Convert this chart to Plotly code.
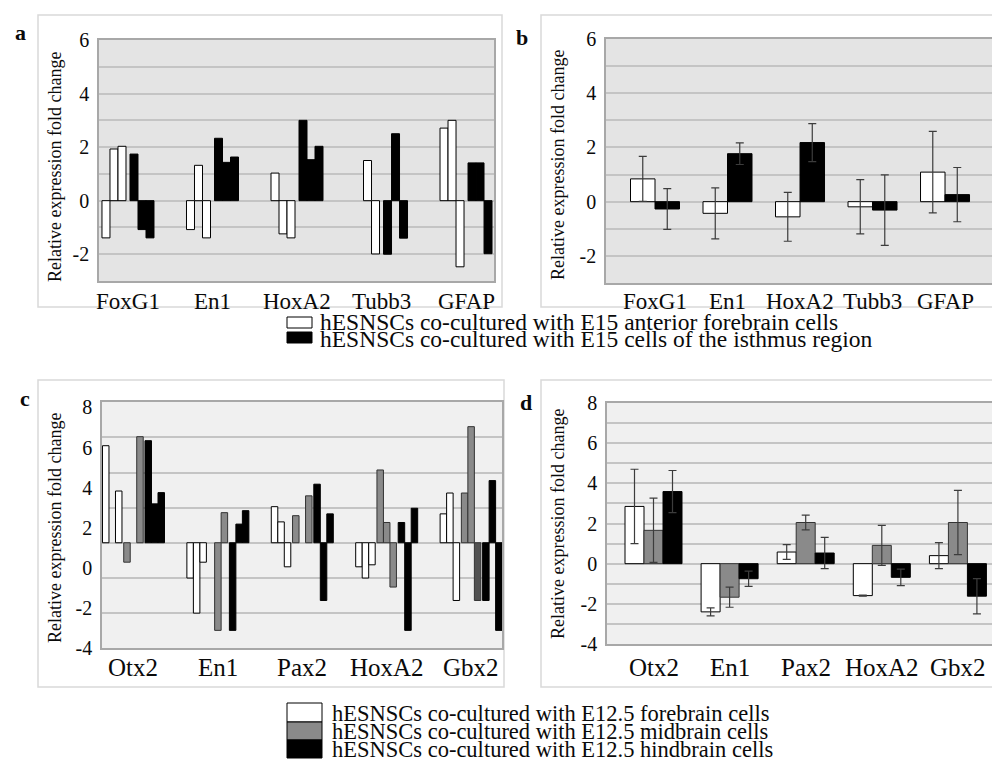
import plotly.graph_objects as go

W, H = 992, 765
SERIF = "Liberation Serif, Times New Roman, serif"

# ---------------- data ----------------
genes_ab = ["FoxG1", "En1", "HoxA2", "Tubb3", "GFAP"]
# panel a: three replicates per condition
a_fore_r1 = [-1.39, -1.08, 1.03, None, 2.71]
a_fore_r2 = [1.93, 1.32, -1.24, 1.50, 3.00]
a_fore_r3 = [2.03, -1.39, -1.39, -1.99, -2.47]
a_isth_r1 = [1.74, 2.33, 3.00, -2.00, 1.41]
a_isth_r2 = [-1.08, 1.43, 1.53, 2.50, 1.41]
a_isth_r3 = [-1.39, 1.63, 2.03, -1.40, -1.98]
# panel b: means and errors
b_fore_mean = [0.84, -0.43, -0.56, -0.19, 1.09]
b_fore_err = [0.83, 0.94, 0.90, 1.00, 1.50]
b_isth_mean = [-0.27, 1.77, 2.18, -0.31, 0.26]
b_isth_err = [0.75, 0.40, 0.70, 1.30, 1.00]

genes_cd = ["Otx2", "En1", "Pax2", "HoxA2", "Gbx2"]
# panel c: bar tips read on the labelled axis; bars rise from a common base
c_base = 1.25
c_fore_r1 = [6.09, -0.51, 3.05, 0.05, 2.69]
c_fore_r2 = [None, -2.26, 2.29, -0.51, 3.73]
c_fore_r3 = [3.83, 0.28, 0.05, 0.15, -1.63]
c_mid_r1 = [0.28, None, 2.60, 4.88, 3.73]
c_mid_r2 = [None, -3.12, None, 2.26, 7.04]
c_mid_r3 = [6.54, 2.75, 3.59, -0.96, -1.63]
c_hind_r1 = [6.34, -3.12, 4.17, 2.26, -1.63]
c_hind_r2 = [3.19, 2.18, -1.63, -3.12, 4.35]
c_hind_r3 = [3.75, 2.85, 2.69, 2.97, -3.12]
# panel d: means and errors
d_fore_mean = [2.85, -2.40, 0.58, -1.59, 0.40]
d_fore_err = [1.85, 0.20, 0.37, 0.03, 0.65]
d_mid_mean = [1.66, -1.67, 2.05, 0.91, 2.05]
d_mid_err = [1.60, 0.50, 0.37, 1.00, 1.60]
d_hind_mean = [3.59, -0.75, 0.53, -0.68, -1.62]
d_hind_err = [1.05, 0.38, 0.78, 0.41, 0.88]

tick_ab = [-2, 0, 2, 4, 6]
tick_cd = [-4, -2, 0, 2, 4, 6, 8]

legend1 = ["hESNSCs co-cultured with E15 anterior forebrain cells",
           "hESNSCs co-cultured with E15 cells of the isthmus region"]
legend2 = ["hESNSCs co-cultured with E12.5 forebrain cells",
           "hESNSCs co-cultured with E12.5 midbrain cells",
           "hESNSCs co-cultured with E12.5 hindbrain cells"]

WHITE, GRAY, BLACK = "#ffffff", "#8a8a8a", "#000000"
DARKGRAY = "#525252"
GRID = "#c4c4c4"
TXT = "#0a0a0a"
ERR = "#3c3c3c"


def fx(p):
    return p / W


def fy(p):
    return 1 - p / H


fig = go.Figure()


def bar(xa, ya, cats, vals, color, offset, width, base=None, err=None, lc="#000"):
    kw = {}
    if err is not None:
        kw["error_y"] = dict(type="data", array=err, color=ERR, thickness=1.2, width=4)
    fig.add_trace(go.Bar(
        x=cats, y=vals, base=base, offset=offset, width=width,
        marker=dict(color=color, line=dict(color=lc, width=1)),
        xaxis=xa, yaxis=ya, showlegend=False, hoverinfo="skip", **kw))


# panel a (spacing 84.5 px per category)
sa = 84.5
wa = 8 / sa
for vals, off, col in [(a_fore_r1, -26, WHITE), (a_fore_r2, -18, WHITE), (a_fore_r3, -10, WHITE),
                       (a_isth_r1, 2, BLACK), (a_isth_r2, 10, BLACK), (a_isth_r3, 18, BLACK)]:
    bar("x", "y", genes_ab, vals, col, off / sa, wa)

# panel b (spacing 72.5 px)
sb = 72.5
wb = 24.5 / sb
bar("x2", "y2", genes_ab, b_fore_mean, WHITE, -wb, wb, err=b_fore_err)
bar("x2", "y2", genes_ab, b_isth_mean, BLACK, 0, wb, err=b_isth_err)

# panel c (spacing 84.4 px)
sc = 84.4
wc = 6.5 / sc
mid3_colors = [GRAY, GRAY, GRAY, GRAY, DARKGRAY]
for vals, off, col, lc in [(c_fore_r1, -31, WHITE, "#000"), (c_fore_r2, -24.5, WHITE, "#000"),
                           (c_fore_r3, -18, WHITE, "#000"),
                           (c_mid_r1, -9.75, GRAY, "#333"), (c_mid_r2, -3.25, GRAY, "#333"),
                           (c_mid_r3, 3.25, mid3_colors, "#333"),
                           (c_hind_r1, 11.5, BLACK, "#000"), (c_hind_r2, 18, BLACK, "#000"),
                           (c_hind_r3, 24.5, BLACK, "#000")]:
    heights = [None if v is None else v - c_base for v in vals]
    bar("x3", "y3", genes_cd, heights, col, off / sc, wc, base=c_base, lc=lc)

# panel d (spacing 76.1 px)
sd = 76.1
wd = 19 / sd
bar("x4", "y4", genes_cd, d_fore_mean, WHITE, -1.5 * wd, wd, err=d_fore_err)
bar("x4", "y4", genes_cd, d_mid_mean, GRAY, -0.5 * wd, wd, err=d_mid_err, lc="#333")
bar("x4", "y4", genes_cd, d_hind_mean, BLACK, 0.5 * wd, wd, err=d_hind_err)

axis_line = dict(showline=True, mirror=True, linecolor="#a8a8a8", linewidth=1.5,
                 zeroline=False, automargin=False, fixedrange=True)


def xax(dom, rng, anchor, cats):
    return dict(domain=dom, range=rng, type="category", categoryarray=cats,
                categoryorder="array", showgrid=False, anchor=anchor,
                showticklabels=False, ticks="", **axis_line)


def yax(dom, rng, tv, xa):
    return dict(domain=dom, range=rng, anchor=xa, tickvals=tv, ticktext=[str(t) for t in tv],
                showgrid=True, gridcolor=GRID, gridwidth=1.5,
                minor=dict(dtick=1, showgrid=True, gridcolor=GRID, gridwidth=1.5),
                tickfont=dict(family=SERIF, size=20, color=TXT),
                ticks="outside", ticklen=4, tickcolor="rgba(0,0,0,0)", **axis_line)


fig.update_layout(
    width=W, height=H, margin=dict(l=0, r=0, t=0, b=0, autoexpand=False),
    paper_bgcolor="white", plot_bgcolor="rgba(0,0,0,0)", barmode="overlay",
    xaxis=xax([fx(99), fx(494)], [-0.343, 4.331], "y", genes_ab),
    yaxis=yax([fy(281), fy(40)], [-3, 6], tick_ab, "x"),
    xaxis2=xax([fx(606), 1.0], [-0.676, 4.648], "y2", genes_ab),
    yaxis2=yax([fy(283), fy(39)], [-3, 6], tick_ab, "x2"),
    xaxis3=xax([fx(102), fx(502)], [-0.373, 4.366], "y3", genes_cd),
    yaxis3=dict(domain=[fy(648), fy(402)], range=[-4, 8.27], anchor="x3",
                tickvals=tick_cd, ticktext=[str(t) for t in tick_cd], showgrid=False,
                minor=dict(tick0=c_base, dtick=1.75, showgrid=True, gridcolor=GRID, gridwidth=1.5),
                tickfont=dict(family=SERIF, size=20, color=TXT),
                ticks="outside", ticklen=4, tickcolor="rgba(0,0,0,0)", **axis_line),
    xaxis4=xax([fx(607), 1.0], [-0.611, 4.448], "y4", genes_cd),
    yaxis4=yax([fy(644), fy(403)], [-4, 8], tick_cd, "x4"),
)

shapes = []
# panel frames
for x0, y0, x1, y1 in [(38, 15, 502, 307), (541, 15, 1000, 307),
                       (38, 380, 504, 687), (541, 380, 1000, 687)]:
    shapes.append(dict(type="rect", xref="paper", yref="paper", x0=fx(x0), x1=fx(x1),
                       y0=fy(y1), y1=fy(y0), line=dict(color="#d9d9d9", width=1.5),
                       fillcolor="rgba(0,0,0,0)", layer="below"))
# plot-area backgrounds
for ax, col in [("", "#e4e4e4"), ("2", "#e4e4e4"), ("3", "#f0f0f0"), ("4", "#f0f0f0")]:
    shapes.append(dict(type="rect", xref=f"x{ax} domain", yref=f"y{ax} domain",
                       x0=0, x1=1, y0=0, y1=1, fillcolor=col, line=dict(width=0), layer="below"))
# legend swatches
for (y0, y1, col) in [(317, 328, WHITE), (332, 343, BLACK)]:
    shapes.append(dict(type="rect", xref="paper", yref="paper", x0=fx(287), x1=fx(312),
                       y0=fy(y1), y1=fy(y0), fillcolor=col, line=dict(color="#000", width=1)))
for (y0, y1, col) in [(703, 722, WHITE), (722, 740, GRAY), (740, 758, BLACK)]:
    shapes.append(dict(type="rect", xref="paper", yref="paper", x0=fx(287), x1=fx(322),
                       y0=fy(y1), y1=fy(y0), fillcolor=col, line=dict(color="#000", width=1)))
fig.update_layout(shapes=shapes)

ann = []
# category labels under each panel
for xa, cats, ypx, size in [("x", genes_ab, 302, 23), ("x2", genes_ab, 302, 23),
                            ("x3", genes_cd, 667, 25), ("x4", genes_cd, 667, 25)]:
    for c in cats:
        ann.append(dict(text=c, x=c, y=fy(ypx), xref=xa, yref="paper",
                        xanchor="center", yanchor="middle", showarrow=False,
                        font=dict(family=SERIF, size=size, color=TXT)))
for t, x, y in [("a", 20, 33), ("b", 522, 37), ("c", 25, 398), ("d", 526, 402)]:
    ann.append(dict(text=f"<b>{t}</b>", x=fx(x), y=fy(y), xref="paper", yref="paper",
                    xanchor="center", yanchor="middle",
                    showarrow=False, font=dict(family=SERIF, size=22, color=TXT)))
for x, y in [(55, 167), (558, 165), (55, 528), (558, 524)]:
    ann.append(dict(text="Relative expression fold change", x=fx(x), y=fy(y), xref="paper",
                    yref="paper", textangle=-90, showarrow=False,
                    xanchor="center", yanchor="middle",
                    font=dict(family=SERIF, size=18, color=TXT)))
for i, t in enumerate(legend1):
    ann.append(dict(text=t, x=fx(318), y=fy(322 + 17 * i), xref="paper", yref="paper",
                    xanchor="left", yanchor="middle", showarrow=False,
                    font=dict(family=SERIF, size=23.5, color=TXT)))
for i, t in enumerate(legend2):
    ann.append(dict(text=t, x=fx(330), y=fy(713 + 18 * i), xref="paper", yref="paper",
                    xanchor="left", yanchor="middle", showarrow=False,
                    font=dict(family=SERIF, size=22.5, color=TXT)))
fig.update_layout(annotations=ann)

fig.write_html("out.html")
